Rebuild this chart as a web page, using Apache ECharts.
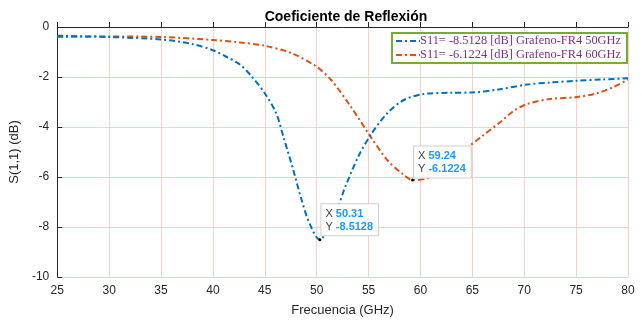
<!DOCTYPE html>
<html>
<head>
<meta charset="utf-8">
<script src="https://cdn.jsdelivr.net/npm/echarts@6/dist/echarts.min.js"></script>
<style>
  html, body { margin: 0; padding: 0; background: #fff; }
  #chart { width: 642px; height: 322px; }
</style>
</head>
<body>
<div id="chart"></div>
<script>
  // curva 50 GHz (azul)
  var freq50 = [25, 30, 35, 38, 40, 41.3, 42.6, 43.7, 45, 46.1, 46.8, 47.7, 48.5, 49.3, 50.31, 51.2, 52.1, 52.7, 54, 55.2, 56.8, 58.4, 60.3, 62.9, 65, 67.5, 70.3, 72.5, 75.1, 77.5, 80];
  var s11_50 = [-0.35, -0.4, -0.5, -0.68, -0.93, -1.19, -1.5, -1.96, -2.65, -3.45, -4.4, -5.65, -6.85, -7.85, -8.5128, -8.0, -7.15, -6.45, -5.19, -4.32, -3.45, -2.92, -2.68, -2.63, -2.62, -2.5, -2.3, -2.22, -2.15, -2.1, -2.05];
  // curva 60 GHz (naranja)
  var freq60 = [25, 30, 35, 40, 42.4, 45, 47.6, 50, 51.4, 53.3, 55.2, 56.8, 58.4, 59.24, 60.7, 62, 63.2, 64.3, 66, 67.7, 69, 70.3, 72.5, 75.1, 77, 78.5, 80];
  var s11_60 = [-0.4, -0.38, -0.4, -0.52, -0.61, -0.75, -1.05, -1.59, -2.12, -3.19, -4.39, -5.32, -5.92, -6.1224, -6.05, -5.72, -5.32, -4.9, -4.35, -3.8, -3.35, -3.08, -2.88, -2.8, -2.65, -2.42, -2.1];

  var seriesNames = [
    "S11= -8.5128 [dB] Grafeno-FR4 50GHz",
    "S11= -6.1224 [dB] Grafeno-FR4 60GHz"
  ];
  var tipX = [50.31, 59.24];
  var tipY = [-8.5128, -6.1224];

  function pairs(xs, ys) {
    return xs.map(function (x, i) { return [x, ys[i]]; });
  }

  function dataTip(i, pos) {
    return {
      coord: [tipX[i], tipY[i]],
      label: {
        show: true,
        position: pos,
        formatter: "X {v|" + tipX[i].toFixed(2) + "}\nY {v|" + tipY[i].toFixed(4) + "}",
        backgroundColor: "rgba(255,255,255,0.96)",
        borderColor: "#cfcfcf",
        borderWidth: 1,
        padding: [3, 5, 2, 4],
        color: "#404040",
        fontFamily: "Liberation Sans, Arial, sans-serif",
        fontSize: 11,
        lineHeight: 13,
        rich: {
          v: { color: "#1a9bff", fontSize: 11, fontWeight: "bold", lineHeight: 13 }
        }
      }
    };
  }

  var chart = echarts.init(document.getElementById("chart"), null, { renderer: "canvas" });

  var axisText = { color: "#262626", fontSize: 12, fontFamily: "Liberation Sans, Arial, sans-serif" };

  chart.setOption({
    animation: false,
    backgroundColor: "#ffffff",
    title: {
      text: "Coeficiente de Reflexión",
      left: 341,
      textAlign: "center",
      top: 5,
      textStyle: { fontSize: 14, fontWeight: "bold", color: "#000", fontFamily: "Liberation Sans, Arial, sans-serif" }
    },
    legend: {
      orient: "vertical",
      right: 15,
      top: 33,
      data: seriesNames,
      itemWidth: 24,
      itemHeight: 10,
      itemGap: 2,
      padding: [2, 6, 2, 3],
      borderColor: "#77ac30",
      borderWidth: 2,
      backgroundColor: "#ffffff",
      itemStyle: { opacity: 0 },
      textStyle: { color: "#7e2f8e", fontSize: 12.4, fontFamily: "Liberation Serif, Times New Roman, serif", padding: [0, 0, 0, -5] }
    },
    grid: { left: 55, right: 14, top: 27, bottom: 45 },
    xAxis: {
      type: "value",
      min: 25,
      max: 80,
      interval: 5,
      name: "Frecuencia (GHz)",
      nameLocation: "middle",
      nameGap: 27,
      nameTextStyle: { color: "#262626", fontSize: 13, fontFamily: "Liberation Sans, Arial, sans-serif" },
      axisLine: { lineStyle: { color: "#262626", width: 1 } },
      axisTick: { inside: true, length: 5, lineStyle: { color: "#262626" } },
      axisLabel: axisText,
      splitLine: { show: true, lineStyle: { color: "#ffcccc", width: 1 } }
    },
    yAxis: {
      type: "value",
      min: -10,
      max: 0,
      interval: 2,
      name: "S(1,1) (dB)",
      nameLocation: "middle",
      nameGap: 30,
      nameTextStyle: { color: "#262626", fontSize: 13, fontFamily: "Liberation Sans, Arial, sans-serif" },
      axisLine: { show: true, onZero: false, lineStyle: { color: "#262626", width: 1 } },
      axisTick: { show: true, inside: true, length: 5, lineStyle: { color: "#262626" } },
      axisLabel: axisText,
      splitLine: { show: true, lineStyle: { color: "#ffcccc", width: 1 } }
    },
    series: [
      {
        name: seriesNames[0],
        type: "line",
        data: pairs(freq50, s11_50),
        smooth: 0.3,
        symbol: "none",
        lineStyle: { color: "#0072bd", width: 2, type: [6, 3, 2, 3] },
        itemStyle: { color: "#0072bd" },
        markPoint: {
          symbol: "circle",
          symbolSize: 3,
          itemStyle: { color: "#000" },
          data: [dataTip(0, [3, -34])]
        },
        z: 3
      },
      {
        name: seriesNames[1],
        type: "line",
        data: pairs(freq60, s11_60),
        smooth: 0.3,
        symbol: "none",
        lineStyle: { color: "#d95319", width: 2, type: [6, 3, 2, 3] },
        itemStyle: { color: "#d95319" },
        markPoint: {
          symbol: "circle",
          symbolSize: 3,
          itemStyle: { color: "#000" },
          data: [dataTip(1, [3, -32])]
        },
        z: 2
      }
    ]
  });
</script>
</body>
</html>
